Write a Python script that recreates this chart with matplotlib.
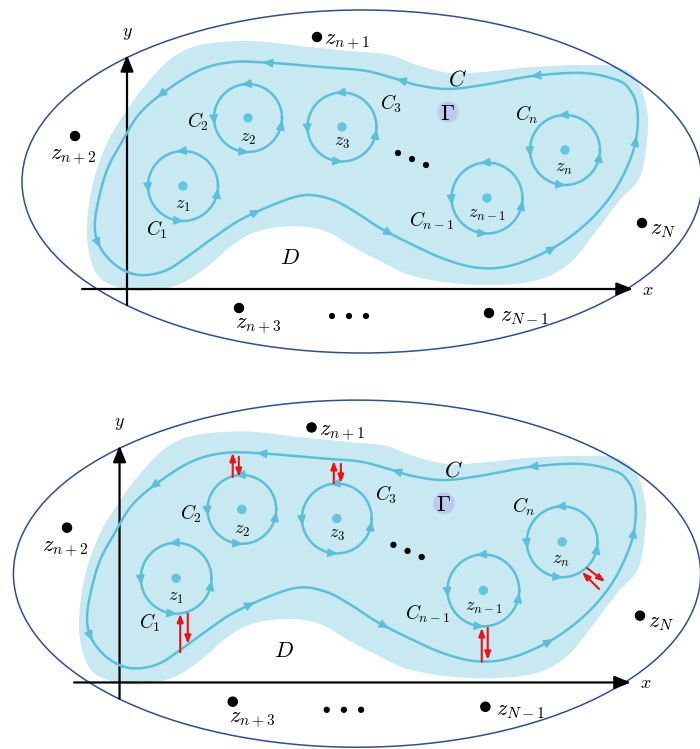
import numpy as np
import matplotlib
matplotlib.use("Agg")
import matplotlib.pyplot as plt
from matplotlib.patches import Ellipse, Circle, Polygon, FancyArrowPatch
from matplotlib.transforms import Affine2D

plt.rcParams['mathtext.fontset'] = 'cm'
plt.rcParams['font.family'] = ['DejaVu Serif']

# ---------------- diagram description (top-panel pixel frame) ----------------
ellipse_center = (362, 181.5)
ellipse_size = (680, 343)

contour_C = [(130, 273), (147, 275), (167, 270), (187, 257), (213, 238), (240, 220),
             (280, 202), (307, 195), (333, 200), (357, 213), (380, 228), (413, 245),
             (447, 260), (480, 268), (513, 265), (553, 248), (587, 223), (613, 193),
             (630, 160), (637, 133), (637, 107), (630, 90), (617, 80), (583, 73),
             (533, 76), (483, 85), (447, 89), (417, 85), (400, 80), (367, 71),
             (333, 68), (273, 63), (233, 62), (200, 70), (167, 90), (140, 113),
             (123, 140), (107, 170), (97, 207), (95, 230), (100, 247), (113, 263)]
contour_arrows = [(267, 64), (160, 95), (97, 245), (257, 212), (390, 233),
                  (400, 80), (535, 76), (637, 140), (552, 247)]

blob = [(120, 288), (147, 291), (180, 284), (207, 267), (230, 247), (253, 233),
        (280, 227), (307, 227), (330, 233), (353, 247), (380, 261), (413, 276),
        (463, 284), (513, 284), (547, 277), (573, 260), (597, 230), (620, 200),
        (640, 177), (647, 140), (647, 110), (637, 80), (617, 67), (583, 65),
        (533, 67), (483, 72), (450, 73), (417, 65), (390, 55), (350, 51),
        (300, 46), (267, 42), (240, 41), (200, 45), (173, 57), (147, 83),
        (127, 110), (107, 143), (93, 183), (87, 225), (90, 257), (100, 278)]

circle_centers = [(183, 186), (248, 118), (342, 127), (487, 198), (565, 150)]
circle_radii = [35, 34, 34.5, 35.5, 35]
circle_arrow_angles = [95, 185, 265, 350]
inner_labels = [r'$z_1$', r'$z_2$', r'$z_3$', r'$z_{n-1}$', r'$z_n$']
inner_label_pos = [(183, 205), (248, 138), (342, 142), (487, 214), (564, 168)]

contour_labels = [r'$C_1$', r'$C_2$', r'$C_3$', r'$C_{n-1}$', r'$C_n$']
contour_label_pos = [(157, 230), (198, 122), (391, 104), (432, 221), (527, 115)]

outer_points = [(317, 37), (75, 136), (239, 308), (489, 313), (642, 223)]
outer_labels = [r'$z_{n+1}$', r'$z_{n+2}$', r'$z_{n+3}$', r'$z_{N-1}$', r'$z_N$']
outer_label_pos = [(324, 42), (73, 157), (258, 326), (500, 316), (650, 229)]
outer_label_ha = ['left', 'center', 'center', 'left', 'left']

mid_dots = [(398, 153), (412, 159), (426, 165)]
low_dots = [(332, 316), (349, 316), (366, 316)]

# red cut arrows (bottom panel): (start, end) in top-panel frame
cut_arrows = [((239, 86), (239, 62)), ((245, 66), (245, 86)),
              ((339, 92), (339, 70)), ((346, 73), (346, 92)),
              ((187, 259), (187, 221)), ((194.5, 221), (194.5, 251)),
              ((485.4, 268.5), (485.4, 235)), ((491.3, 235), (491.3, 266.8)),
              ((589.6, 176), (607.4, 189.7)), ((601.4, 196.6), (584.6, 179.8))]

# colours
BLOB = '#c8e9f1'
LINE = '#5cbfd9'
DOT = '#66c4dc'
ELL = '#2e4f91'
GAMMA_BG = '#bccaee'
RED = '#f01010'


def closed_spline(pts, n=30):
    P = np.asarray(pts, float)
    m = len(P)
    t = np.linspace(0, 1, n, endpoint=False)[:, None]
    out = []
    for i in range(m):
        p0, p1, p2, p3 = P[i - 1], P[i], P[(i + 1) % m], P[(i + 2) % m]
        out.append(0.5 * (2 * p1 + (-p0 + p2) * t + (2 * p0 - 5 * p1 + 4 * p2 - p3) * t ** 2
                          + (-p0 + 3 * p1 - 3 * p2 + p3) * t ** 3))
    return np.vstack(out)


def head(ax, T, p, d, color, ms=12, z=6):
    p = np.asarray(p, float)
    d = np.asarray(d, float)
    d = d / np.hypot(*d)
    a = FancyArrowPatch(tuple(p - d * 3), tuple(p + d * 4),
                        arrowstyle='-|>,head_length=0.5,head_width=0.22',
                        mutation_scale=ms, color=color, lw=1.0,
                        shrinkA=0, shrinkB=0, transform=T, zorder=z)
    ax.add_patch(a)


def draw_panel(ax, T, red=False):
    ax.add_patch(Ellipse(ellipse_center, *ellipse_size, fill=False, ec=ELL, lw=1.1,
                         transform=T, zorder=2))
    B = closed_spline(blob)
    ax.add_patch(Polygon(B, closed=True, fc=BLOB, ec='none', transform=T, zorder=1))

    # coordinate axes
    ax.add_patch(FancyArrowPatch((127, 305), (127, 55),
                                 arrowstyle='-|>,head_length=0.7,head_width=0.28',
                                 mutation_scale=14, color='black', lw=1.6,
                                 shrinkA=0, shrinkB=0, transform=T, zorder=3))
    ax.add_patch(FancyArrowPatch((82, 289), (633, 289),
                                 arrowstyle='-|>,head_length=0.7,head_width=0.28',
                                 mutation_scale=14, color='black', lw=1.6,
                                 shrinkA=0, shrinkB=0, transform=T, zorder=3))
    ax.text(127, 33, r'$y$', fontsize=13, ha='center', va='center', transform=T)
    ax.text(648, 290, r'$x$', fontsize=13, ha='center', va='center', transform=T)

    # contour C
    S = closed_spline(contour_C)
    ax.plot(np.r_[S[:, 0], S[0, 0]], np.r_[S[:, 1], S[0, 1]], color=LINE, lw=1.8,
            transform=T, zorder=4)
    N = len(S)
    for tx, ty in contour_arrows:
        i = int(np.argmin((S[:, 0] - tx) ** 2 + (S[:, 1] - ty) ** 2))
        d = S[(i + 2) % N] - S[i - 2]
        head(ax, T, S[i], d, LINE)

    # inner circles
    th = np.linspace(0, 2 * np.pi, 200)
    for (cx, cy), r in zip(circle_centers, circle_radii):
        ax.plot(cx + r * np.cos(th), cy - r * np.sin(th), color=LINE, lw=1.8,
                transform=T, zorder=4)
        ax.add_patch(Circle((cx, cy), 4, color=DOT, transform=T, zorder=4))
        for a in np.radians(circle_arrow_angles):
            p = (cx + r * np.cos(a), cy - r * np.sin(a))
            head(ax, T, p, (-np.sin(a), -np.cos(a)), LINE)

    for s, (x, y) in zip(inner_labels, inner_label_pos):
        ax.text(x, y, s, fontsize=13, ha='center', va='center', transform=T, zorder=7)
    for s, (x, y) in zip(contour_labels, contour_label_pos):
        ax.text(x, y, s, fontsize=14, ha='center', va='center', transform=T, zorder=7)

    ax.text(457, 80, r'$C$', fontsize=16, ha='center', va='center', transform=T, zorder=7)
    ax.add_patch(Circle((448, 112), 10, color=GAMMA_BG, transform=T, zorder=5))
    ax.text(448, 114, r'$\Gamma$', fontsize=16, ha='center', va='center', transform=T, zorder=7)
    ax.text(290, 258, r'$D$', fontsize=16, ha='center', va='center', transform=T, zorder=7)

    for (x, y) in mid_dots + low_dots:
        ax.add_patch(Circle((x, y), 2.4, color='black', transform=T, zorder=7))
    for (x, y), s, (lx, ly), ha in zip(outer_points, outer_labels, outer_label_pos, outer_label_ha):
        ax.add_patch(Circle((x, y), 4.5, color='black', transform=T, zorder=7))
        ax.text(lx, ly, s, fontsize=16, ha=ha, va='center', transform=T, zorder=7)

    if red:
        for p0, p1 in cut_arrows:
            ax.add_patch(FancyArrowPatch(p0, p1,
                                         arrowstyle='-|>,head_length=0.6,head_width=0.22',
                                         mutation_scale=8, color=RED, lw=1.5,
                                         shrinkA=0, shrinkB=0, transform=T, zorder=8))


fig = plt.figure(figsize=(7, 7.49), dpi=100)
ax = fig.add_axes([0, 0, 1, 1])
ax.set_xlim(0, 700)
ax.set_ylim(749, 0)
ax.axis('off')

draw_panel(ax, ax.transData, red=False)
T_bottom = Affine2D().scale(1.0106, 1.012).translate(-8.8, 390) + ax.transData
draw_panel(ax, T_bottom, red=True)

fig.savefig('out.png', dpi=100)
